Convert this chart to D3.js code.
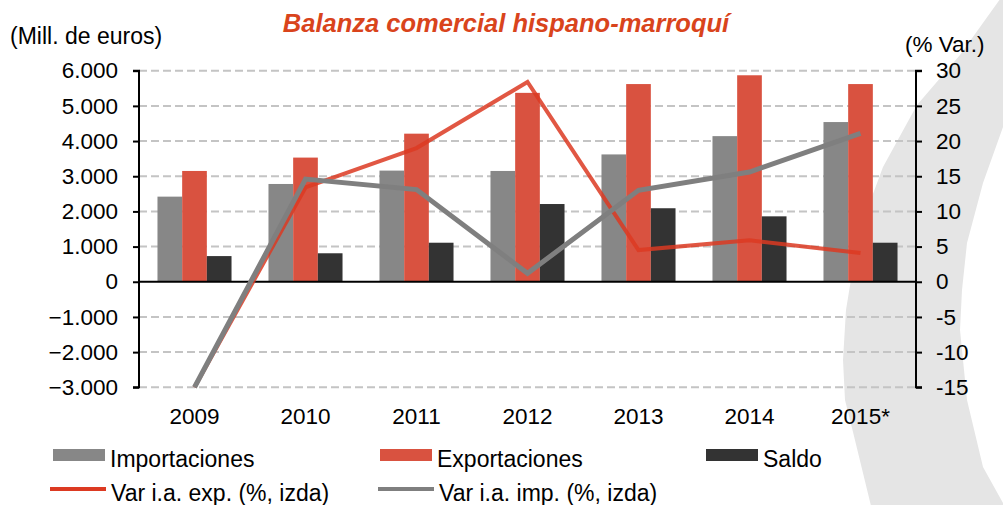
<!DOCTYPE html>
<html>
<head>
<meta charset="utf-8">
<script src="https://cdn.jsdelivr.net/npm/d3@7"></script>
<style>
  body { margin: 0; background: #fff; }
  svg text { font-family: "Liberation Sans", Arial, sans-serif; fill: #000; }
</style>
</head>
<body>
<div id="chart"></div>
<script>
// data
const years = ['2009', '2010', '2011', '2012', '2013', '2014', '2015*'];
const importaciones = [2420, 2780, 3160, 3150, 3620, 4140, 4540];
const exportaciones = [3150, 3530, 4210, 5370, 5620, 5870, 5620];
const saldo = [730, 810, 1110, 2210, 2090, 1860, 1110];
const varExp = [-15, 13.4, 19.0, 28.4, 4.5, 5.9, 4.1];
const varImp = [-15, 14.6, 13.1, 1.2, 13.0, 15.6, 21.1];
const leftTicks = [-3000, -2000, -1000, 0, 1000, 2000, 3000, 4000, 5000, 6000];
const rightTicks = [-15, -10, -5, 0, 5, 10, 15, 20, 25, 30];

const width = 1003, height = 505;
const plot = { left: 139, right: 916, top: 70.7, bottom: 387.3 };

const colors = {
    imp: '#878787',
    exp: '#d95240',
    saldo: '#333333',
    expLine: '#dc3a22',
    impLine: '#7f7f7f'
};

const svg = d3.select('#chart').append('svg')
    .attr('width', width)
    .attr('height', height);

// decorative grey swoosh in the background
const swoosh = [
    [1003, -5], [960, 55], [917, 105], [883, 167], [867, 210], [853, 267],
    [846, 310], [843, 360], [845, 400], [853, 432], [872, 510], [1010, 510],
    [1003, 503], [983, 467], [967, 400], [960, 330], [962, 290], [967, 243],
    [983, 183], [1003, 127], [1010, 120], [1010, -5]
];
svg.append('path')
    .attr('d', d3.line()(swoosh) + 'Z')
    .attr('fill', '#e5e5e5');

const x = d3.scaleBand()
    .domain(years)
    .range([plot.left, plot.right])
    .paddingInner(0.333)
    .paddingOuter(0.1665);

const series = ['imp', 'exp', 'saldo'];
const xSub = d3.scaleBand().domain(series).range([0, x.bandwidth()]);

const yL = d3.scaleLinear().domain([-3000, 6000]).range([plot.bottom, plot.top]);
const yR = d3.scaleLinear().domain([-15, 30]).range([plot.bottom, plot.top]);

// grid
svg.append('g').selectAll('line')
    .data(leftTicks.filter(d => d !== 0))
    .enter().append('line')
    .attr('x1', plot.left).attr('x2', plot.right)
    .attr('y1', d => yL(d)).attr('y2', d => yL(d))
    .attr('stroke', '#c4c4c4')
    .attr('stroke-width', 2)
    .attr('stroke-dasharray', '8,4');

// bars
const rows = years.map((y, i) => ({
    year: y,
    imp: importaciones[i],
    exp: exportaciones[i],
    saldo: saldo[i]
}));

const groups = svg.append('g').selectAll('g')
    .data(rows)
    .enter().append('g')
    .attr('transform', d => 'translate(' + x(d.year) + ',0)');

groups.selectAll('rect')
    .data(d => series.map(k => ({ key: k, value: d[k] })))
    .enter().append('rect')
    .attr('x', d => xSub(d.key))
    .attr('width', xSub.bandwidth())
    .attr('y', d => yL(Math.max(0, d.value)))
    .attr('height', d => Math.abs(yL(d.value) - yL(0)))
    .attr('fill', d => colors[d.key]);

// zero line
svg.append('line')
    .attr('x1', plot.left).attr('x2', plot.right)
    .attr('y1', yL(0)).attr('y2', yL(0))
    .attr('stroke', '#000')
    .attr('stroke-width', 2);

// axes
const axisL = svg.append('g')
    .attr('transform', 'translate(' + plot.left + ',0)')
    .call(d3.axisLeft(yL).tickValues(leftTicks).tickSize(6).tickPadding(15)
        .tickFormat(d => d3.format(',')(d).replace(/,/g, '.')));

const axisR = svg.append('g')
    .attr('transform', 'translate(' + plot.right + ',0)')
    .call(d3.axisRight(yR).tickValues(rightTicks).tickSize(6).tickPadding(14)
        .tickFormat(d => d));

[axisL, axisR].forEach(a => {
    a.select('.domain').attr('stroke', '#000').attr('stroke-width', 2)
        .attr('d', a === axisL
            ? 'M-6,' + plot.top + 'H0V' + plot.bottom + 'H-6'
            : 'M6,' + plot.top + 'H0V' + plot.bottom + 'H6');
    a.selectAll('.tick line').attr('stroke', '#000').attr('stroke-width', 2);
    a.selectAll('.tick text')
        .style('font-size', '22.5px')
        .style('font-family', '"Liberation Sans", Arial, sans-serif')
        .attr('fill', '#000');
});

// year labels
svg.append('g').selectAll('text')
    .data(years)
    .enter().append('text')
    .attr('x', d => x(d) + x.bandwidth() / 2)
    .attr('y', 424)
    .attr('text-anchor', 'middle')
    .style('font-size', '22.5px')
    .text(d => d);

// lines
const lineFn = vals => d3.line()
    .x((d, i) => x(years[i]) + x.bandwidth() / 2)
    .y(d => yR(d))(vals);

svg.append('path')
    .attr('d', lineFn(varExp))
    .attr('fill', 'none')
    .attr('stroke', colors.expLine)
    .attr('stroke-opacity', 0.85)
    .attr('stroke-width', 4);

svg.append('path')
    .attr('d', lineFn(varImp))
    .attr('fill', 'none')
    .attr('stroke', colors.impLine)
    .attr('stroke-width', 5);

// titles
svg.append('text')
    .attr('x', 506).attr('y', 32)
    .attr('text-anchor', 'middle')
    .style('font-size', '25.5px')
    .style('font-weight', 'bold')
    .style('font-style', 'italic')
    .style('fill', '#d9441c')
    .text('Balanza comercial hispano-marroquí');

svg.append('text')
    .attr('x', 10).attr('y', 44)
    .style('font-size', '23px')
    .text('(Mill. de euros)');

svg.append('text')
    .attr('x', 905).attr('y', 52)
    .style('font-size', '22.5px')
    .text('(% Var.)');

// legend
const legendBars = [
    { label: 'Importaciones', color: colors.imp, x: 53 },
    { label: 'Exportaciones', color: colors.exp, x: 380 },
    { label: 'Saldo', color: colors.saldo, x: 706 }
];
const legendLines = [
    { label: 'Var i.a. exp. (%, izda)', color: colors.expLine, x: 50 },
    { label: 'Var i.a. imp. (%, izda)', color: colors.impLine, x: 378 }
];

const lb = svg.append('g').selectAll('g')
    .data(legendBars)
    .enter().append('g');
lb.append('rect')
    .attr('x', d => d.x).attr('y', 449)
    .attr('width', 52).attr('height', 12)
    .attr('fill', d => d.color);
lb.append('text')
    .attr('x', d => d.x + 57).attr('y', 467)
    .style('font-size', '23px')
    .text(d => d.label);

const ll = svg.append('g').selectAll('g')
    .data(legendLines)
    .enter().append('g');
ll.append('line')
    .attr('x1', d => d.x).attr('x2', d => d.x + 56)
    .attr('y1', 489).attr('y2', 489)
    .attr('stroke', d => d.color)
    .attr('stroke-width', 4);
ll.append('text')
    .attr('x', d => d.x + 61).attr('y', 501)
    .style('font-size', '23px')
    .text(d => d.label);
</script>
</body>
</html>
